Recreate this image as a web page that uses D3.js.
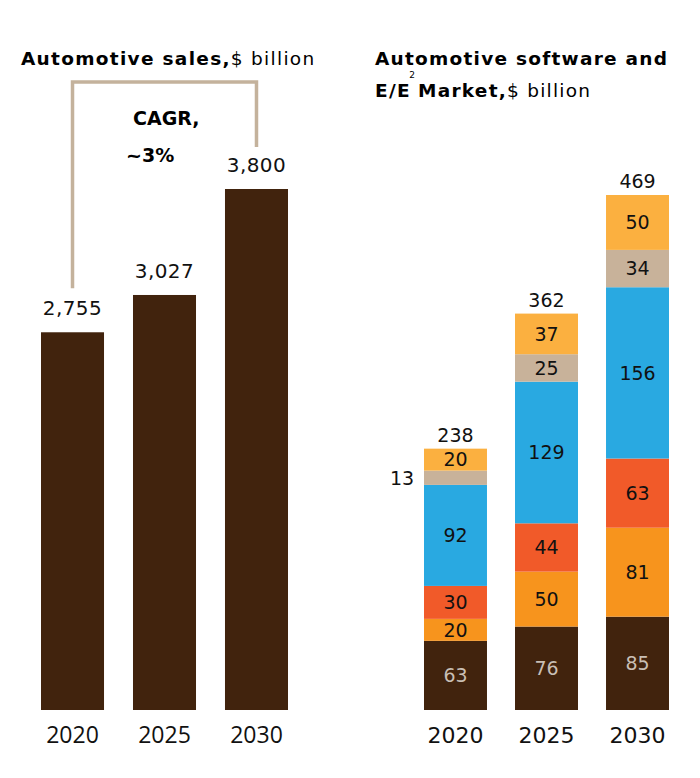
<!DOCTYPE html>
<html>
<head>
<meta charset="utf-8">
<script src="https://cdn.jsdelivr.net/npm/d3@7"></script>
<style>
  body { margin: 0; background: #fff; }
  svg { display: block; font-family: 'DejaVu Sans', sans-serif; }
</style>
</head>
<body>
<div id="chart"></div>
<script>
const years = ['2020', '2025', '2030']

// left panel
const salesValues = [2755, 3027, 3800]
const salesLabels = ['2,755', '3,027', '3,800']

// right panel, stacked bottom to top
const segmentKeys = ['core', 'sensors', 'ecu', 'software', 'integration', 'services']
const core = [63, 76, 85]
const sensors = [20, 50, 81]
const ecu = [30, 44, 63]
const software = [92, 129, 156]
const integration = [13, 25, 34]
const services = [20, 37, 50]
const marketTotals = [238, 362, 469]

const segColors = {
  core: '#41230d',
  sensors: '#f7941d',
  ecu: '#f15a29',
  software: '#29a9e1',
  integration: '#c8b29a',
  services: '#fbb040'
}

const width = 700
const height = 778
const baseY = 710
const numFont = 'DejaVu Sans'
const yearFont = "'Open Sans', sans-serif"

const svg = d3.select('#chart')
  .append('svg')
  .attr('width', width)
  .attr('height', height)

// ---------- left: automotive sales ----------
const xL = d3.scaleBand().domain(years).range([41, 288]).paddingInner(0.315).paddingOuter(0)
const yL = d3.scaleLinear().domain([0, 3800]).range([baseY, 189])

const salesData = years.map((y, i) => ({ year: y, value: salesValues[i], label: salesLabels[i] }))

svg.append('g').attr('class', 'sales-bars')
  .selectAll('rect')
  .data(salesData)
  .join('rect')
  .attr('x', d => xL(d.year))
  .attr('y', d => yL(d.value))
  .attr('width', xL.bandwidth())
  .attr('height', d => baseY - yL(d.value))
  .attr('fill', '#41230d')

svg.append('g').attr('class', 'sales-labels')
  .selectAll('text')
  .data(salesData)
  .join('text')
  .attr('x', d => xL(d.year) + xL.bandwidth() / 2)
  .attr('y', d => yL(d.value) - 17)
  .attr('text-anchor', 'middle')
  .attr('font-size', 20)
  .attr('letter-spacing', 0.4)
  .attr('fill', '#111')
  .text(d => d.label)

// CAGR bracket
const first = salesData[0]
const last = salesData[salesData.length - 1]
const bx1 = xL(first.year) + xL.bandwidth() / 2
const bx2 = xL(last.year) + xL.bandwidth() / 2
const bTop = 82
svg.append('path')
  .attr('d', d3.line()([
    [bx1, yL(first.value) - 44],
    [bx1, bTop],
    [bx2, bTop],
    [bx2, yL(last.value) - 42]
  ]))
  .attr('fill', 'none')
  .attr('stroke', '#c4b29c')
  .attr('stroke-width', 3.5)

svg.append('text')
  .attr('x', 133).attr('y', 125)
  .attr('font-size', 19).attr('font-weight', 700)
  .text('CAGR,')
svg.append('text')
  .attr('x', 126).attr('y', 162)
  .attr('font-size', 19).attr('font-weight', 700)
  .text('~3%')

const titleL = svg.append('text').attr('x', 21).attr('y', 65)
  .attr('font-size', 18.5).attr('letter-spacing', 1.3)
titleL.append('tspan').attr('font-weight', 700).text('Automotive sales,')
titleL.append('tspan').text('$ billion')

svg.append('g').attr('class', 'x-left')
  .attr('transform', `translate(0,${baseY})`)
  .call(d3.axisBottom(xL).tickSize(0).tickPadding(17))
  .call(g => g.select('.domain').remove())
  .call(g => g.selectAll('text')
    .attr('font-size', 23)
    .attr('font-family', yearFont)
    .attr('fill', '#111'))

// ---------- right: software and E/E market ----------
const xR = d3.scaleBand().domain(years).range([424, 669]).paddingInner(0.308).paddingOuter(0)
const yR = d3.scaleLinear().domain([0, 469]).range([baseY, 195])

const table = years.map((y, i) => ({
  year: y,
  core: core[i],
  sensors: sensors[i],
  ecu: ecu[i],
  software: software[i],
  integration: integration[i],
  services: services[i],
  total: marketTotals[i]
}))

const stacked = d3.stack().keys(segmentKeys)(table)

const layers = svg.append('g').attr('class', 'market-bars')
  .selectAll('g')
  .data(stacked)
  .join('g')
  .attr('fill', d => segColors[d.key])

layers.selectAll('rect')
  .data(d => d)
  .join('rect')
  .attr('x', d => xR(d.data.year))
  .attr('y', d => yR(d[1]))
  .attr('width', xR.bandwidth())
  .attr('height', d => yR(d[0]) - yR(d[1]))

const segLabels = svg.append('g').attr('class', 'seg-labels')
stacked.forEach(layer => {
  segLabels.selectAll(null)
    .data(layer)
    .join('text')
    .attr('x', d => {
      // thin 2020 slice gets its label outside, left of the bar
      const small = layer.key === 'integration' && d.data.year === '2020'
      return small ? xR(d.data.year) - 22 : xR(d.data.year) + xR.bandwidth() / 2
    })
    .attr('y', d => (yR(d[0]) + yR(d[1])) / 2)
    .attr('dy', '0.36em')
    .attr('text-anchor', 'middle')
    .attr('font-size', 19)
    .attr('fill', layer.key === 'core' ? '#c9bfb5' : '#111')
    .text(d => d.data[layer.key])
})

svg.append('g').attr('class', 'total-labels')
  .selectAll('text')
  .data(table)
  .join('text')
  .attr('x', d => xR(d.year) + xR.bandwidth() / 2)
  .attr('y', d => yR(d3.sum(segmentKeys, k => d[k])) - 7)
  .attr('text-anchor', 'middle')
  .attr('font-size', 19)
  .attr('fill', '#111')
  .text(d => d.total)

const titleR1 = svg.append('text').attr('x', 375).attr('y', 65)
  .attr('font-size', 18.5).attr('letter-spacing', 1.25)
titleR1.append('tspan').attr('font-weight', 700).text('Automotive software and')
const titleR2 = svg.append('text').attr('x', 375).attr('y', 97)
  .attr('font-size', 18.5).attr('letter-spacing', 1.25)
titleR2.append('tspan').attr('font-weight', 700).text('E/E')
titleR2.append('tspan').attr('font-size', 9).attr('letter-spacing', 0).attr('dx', -1.5).attr('dy', -19).text('2')
titleR2.append('tspan').attr('font-weight', 700).attr('dx', 3).attr('dy', 19).text('Market,')
titleR2.append('tspan').text('$ billion')

svg.append('g').attr('class', 'x-right')
  .attr('transform', `translate(0,${baseY})`)
  .call(d3.axisBottom(xR).tickSize(0).tickPadding(17))
  .call(g => g.select('.domain').remove())
  .call(g => g.selectAll('text')
    .attr('font-size', 22)
    .attr('font-family', numFont)
    .attr('fill', '#111'))
</script>
</body>
</html>
